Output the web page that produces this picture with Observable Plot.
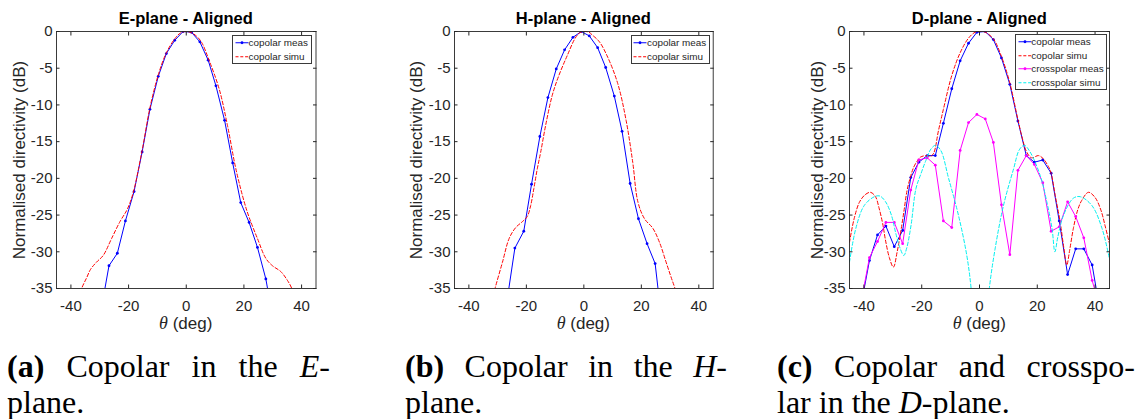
<!DOCTYPE html>
<html>
<head>
<meta charset="utf-8">
<script src="https://cdn.jsdelivr.net/npm/d3@7"></script>
<script src="https://cdn.jsdelivr.net/npm/@observablehq/plot@0.6"></script>
<style>
  html, body { margin: 0; padding: 0; background: #fff; }
  #root { position: relative; width: 1142px; height: 419px; overflow: hidden; background: #fff;
          font-family: "Liberation Sans", Arial, Helvetica, sans-serif; color: #262626; }
  .panel { position: absolute; top: 0; }
  .title { position: absolute; top: 8px; font-weight: bold; font-size: 16.5px; color: #000;
           white-space: nowrap; transform: translateX(-50%); line-height: 20px; }
  .ylabel { position: absolute; font-size: 17px; white-space: nowrap; line-height: 20px;
            transform: translate(-50%, -50%) rotate(-90deg); }
  .xlabel { position: absolute; top: 313px; font-size: 17px; white-space: nowrap; line-height: 20px;
            transform: translateX(-50%); }
  .xlabel i { font-family: "Liberation Serif", "Times New Roman", serif; font-size: 18px; }
  .legend { position: absolute; background: #fff; border: 1px solid #3a3a3a; box-sizing: border-box;
            font-size: 9.9px; color: #262626; }
  .legend .row { position: relative; height: 13.5px; line-height: 13.5px; white-space: nowrap; }
  .legend svg { position: absolute; left: 1.5px; top: 0; }
  .legend span { position: absolute; left: 15.3px; top: 0; }
  .caption { position: absolute; top: 349px; font-family: "Liberation Serif", "Times New Roman", serif;
             font-size: 32px; line-height: 35.6px; color: #000; }
  .caption .l1 { display: block; text-align: justify; text-align-last: justify; white-space: nowrap; }
  .caption .l2 { display: block; white-space: nowrap; }
</style>
</head>
<body>
<div id="root"></div>
<script>
// ---------- text ----------
const titles = ["E-plane - Aligned", "H-plane - Aligned", "D-plane - Aligned"];
const yLabel = "Normalised directivity (dB)";
const xLabelSymbol = "θ";
const xLabelUnit = " (deg)";
const legendLabels = ["copolar meas", "copolar simu", "crosspolar meas", "crosspolar simu"];
const captionTags = ["(a)", "(b)", "(c)"];
const captionLine1 = [[" Copolar in the ", "E", "-"], [" Copolar in the ", "H", "-"], [" Copolar and crosspo-", "", ""]];
const captionLine2 = [["plane.", "", ""], ["plane.", "", ""], ["lar in the ", "D", "-plane."]];

// ---------- axes ----------
const xDomain = [-45, 45];
const yDomain = [-35, 0];
const xTicks = [-40, -20, 0, 20, 40];
const yTicks = [0, -5, -10, -15, -20, -25, -30, -35];

// ---------- E-plane ----------
const eMeasTheta = [-29.7, -26.8, -23.9, -21.1, -18.1, -15.3, -12.6, -9.7, -6.9, -4.0, -1.1, 1.8, 4.7, 7.6, 10.3, 13.3, 16.1, 18.9, 21.8, 24.7, 27.6, 30.5];
const eMeasDB    = [-38.3, -31.9, -30.2, -25.8, -21.8, -16.4, -10.6, -6.1, -3.0, -1.2, 0, -0.1, -1.4, -3.9, -7.4, -12.1, -17.9, -23.3, -26.0, -29.4, -33.7, -40.0];
const eSimuTheta = [-38.0, -36.3, -34.5, -33.2, -31.1, -28.8, -25.9, -23.0, -20.7, -19.5, -18.1, -15.3, -12.6, -9.7, -6.9, -4.0, -2.0, 0, 2.0, 4.0, 5.5, 7.9, 11.4, 14.3, 17.2, 20.1, 21.8, 24.7, 27.6, 29.9, 32.8, 35.1, 36.6, 38.0];
const eSimuDB    = [-37.0, -35.0, -33.5, -32.4, -31.4, -30.5, -28.2, -25.9, -24.4, -23.3, -21.5, -16.2, -10.4, -5.9, -2.9, -1.0, -0.2, 0, -0.2, -0.8, -1.6, -3.9, -7.8, -12.8, -18.7, -23.2, -25.3, -28.2, -30.9, -31.9, -32.7, -33.9, -35.0, -37.0];

// ---------- H-plane ----------
const hMeasTheta = [-26.9, -24.0, -20.9, -18.2, -15.3, -12.5, -9.6, -6.7, -3.8, -0.9, 1.9, 4.8, 7.6, 10.6, 13.3, 16.1, 19.0, 22.0, 24.8, 27.7];
const hMeasDB    = [-37.1, -29.5, -27.2, -20.8, -14.3, -9.0, -5.1, -2.5, -0.8, 0, -0.6, -2.2, -4.9, -8.8, -13.6, -20.7, -25.5, -28.9, -31.6, -41.5];
const hSimuTheta = [-32.5, -30.9, -28.3, -26.0, -23.7, -21.4, -19.7, -18.5, -17.4, -16.2, -15.0, -13.3, -11.0, -8.7, -5.8, -3.0, -1.5, 0.3, 1.8, 3.0, 5.4, 8.3, 11.8, 14.7, 17.0, 18.8, 21.1, 24.0, 26.3, 28.6, 30.3, 31.7, 33.0];
const hSimuDB    = [-37.5, -35.0, -31.4, -28.2, -26.7, -25.9, -25.2, -23.7, -21.4, -18.7, -16.4, -12.8, -8.7, -6.0, -3.3, -0.9, -0.2, 0, -0.1, -0.5, -1.4, -3.5, -7.1, -12.1, -17.8, -23.2, -25.5, -26.8, -28.7, -31.4, -33.4, -35.0, -37.0];

// ---------- D-plane ----------
const dMeasTheta = [-41.0, -38.1, -35.3, -32.4, -29.5, -26.6, -23.8, -21.0, -18.1, -15.3, -12.5, -9.6, -6.7, -3.8, -0.9, 2.0, 4.8, 7.6, 10.5, 13.3, 16.2, 19.0, 21.9, 24.8, 27.6, 30.5, 33.3, 36.1, 39.0, 41.9];
const dCoMeasDB  = [-37.3, -31.2, -27.7, -26.5, -29.3, -27.1, -19.9, -17.8, -16.9, -16.9, -12.5, -7.8, -4.0, -1.6, -0.1, 0, -1.1, -3.6, -7.2, -12.2, -16.9, -17.8, -17.5, -19.3, -25.8, -33.1, -29.6, -29.6, -31.8, -38.5];
const dXMeasDB   = [-36.9, -30.8, -28.6, -26.0, -26.0, -28.9, -21.6, -17.5, -17.2, -18.2, -25.8, -26.7, -16.2, -12.4, -11.3, -11.9, -15.1, -23.6, -30.4, -18.9, -16.9, -18.1, -20.6, -27.2, -26.6, -23.2, -25.2, -28.1, -33.9, -38.0];
const dCoSimuTheta = [-45, -43.4, -41.5, -39.5, -37.7, -36.0, -34.8, -33.5, -32.6, -31.2, -29.8, -28.5, -27.4, -26.2, -25.1, -23.9, -22.8, -21.5, -20.4, -18.5, -17.0, -15.9, -14.2, -12.5, -9.6, -6.7, -3.8, -1.5, 0.5, 2.0, 4.8, 7.6, 10.5, 13.3, 15.0, 16.2, 18.0, 20.4, 22.0, 24.0, 24.8, 26.2, 27.9, 29.2, 30.2, 31.2, 32.5, 34.0, 35.4, 37.7, 40.0, 42.0, 43.5, 45];
const dCoSimuDB    = [-28.7, -25.5, -23.2, -22.2, -21.9, -22.5, -24.0, -26.2, -28.3, -30.8, -32.1, -30.0, -27.6, -24.6, -21.7, -19.8, -18.5, -17.6, -17.1, -16.9, -17.0, -16.6, -13.5, -10.6, -6.0, -2.9, -0.9, -0.1, 0, -0.1, -1.0, -3.4, -7.0, -12.0, -14.8, -16.3, -17.2, -16.9, -17.3, -18.5, -19.3, -22.3, -25.9, -29.5, -31.8, -29.8, -26.8, -24.3, -23.0, -21.9, -22.6, -24.3, -26.5, -28.9];
const dXSimuTheta = [-45, -42.8, -39.9, -36.4, -34.5, -32.5, -30.5, -28.9, -27.5, -26.2, -25.2, -23.7, -22.0, -20.3, -18.6, -16.8, -15.2, -13.4, -10.7, -7.3, -4.4, -2.9, -2.0, 2.4, 3.4, 5.4, 8.3, 11.8, 13.8, 15.5, 17.5, 21.0, 23.3, 25.1, 26.1, 27.1, 29.1, 32.5, 34.9, 38.9, 42.4, 45];
const dXSimuDB    = [-31.4, -26.8, -23.7, -22.5, -22.4, -23.2, -25.0, -27.6, -29.5, -30.5, -29.5, -26.4, -21.4, -19.4, -17.6, -16.0, -15.5, -16.2, -20.0, -25.0, -30.5, -35.0, -40.0, -40.0, -35.0, -29.6, -23.7, -18.7, -16.1, -15.5, -16.4, -19.6, -23.2, -26.8, -30.0, -28.0, -25.0, -22.7, -22.5, -23.7, -26.8, -31.0];

// ---------- styles ----------
const seriesStyle = {
  coMeas: {stroke: "#0000ff", dash: null, dots: true},
  coSimu: {stroke: "#ff0000", dash: "3.5,2.2", dots: false},
  xMeas:  {stroke: "#ff00ff", dash: null, dots: true},
  xSimu:  {stroke: "#00f0f0", dash: "3.5,2.2", dots: false}
};

const zip = (xs, ys) => xs.map((x, i) => ({theta: x, db: ys[i]}));

const panels = [
  {series: [["coMeas", zip(eMeasTheta, eMeasDB)], ["coSimu", zip(eSimuTheta, eSimuDB)]]},
  {series: [["coMeas", zip(hMeasTheta, hMeasDB)], ["coSimu", zip(hSimuTheta, hSimuDB)]]},
  {series: [["coMeas", zip(dMeasTheta, dCoMeasDB)], ["coSimu", zip(dCoSimuTheta, dCoSimuDB)],
            ["xMeas", zip(dMeasTheta, dXMeasDB)], ["xSimu", zip(dXSimuTheta, dXSimuDB)]]}
];

// ---------- layout (pixels) ----------
const layout = [
  {svgLeft: 0,     frameW: 259.5, ylabelX: 20,    legend: {left: 232.3, top: 35, width: 79.7}, cap: {left: 7,   width: 323}},
  {svgLeft: 398,   frameW: 258.7, ylabelX: 416.7, legend: {left: 630.7, top: 35, width: 79.3}, cap: {left: 405, width: 322}},
  {svgLeft: 793.3, frameW: 260,   ylabelX: 818.3, legend: {left: 1015,  top: 34, width: 91.7}, cap: {left: 777, width: 358}}
];
const SVG_W = 330, SVG_H = 340, M_LEFT = 56, M_TOP = 31, FRAME_H = 257;
const axisColor = "#262626";
const tickFmt = d => String(d);   // MATLAB uses a plain hyphen-minus

const root = document.getElementById("root");
const legendKeys = ["coMeas", "coSimu", "xMeas", "xSimu"];

panels.forEach((p, i) => {
  const L = layout[i];
  const marks = [];
  for (const [key, data] of p.series) {
    const s = seriesStyle[key];
    marks.push(Plot.line(data, {x: "theta", y: "db", stroke: s.stroke, strokeWidth: 1,
      strokeDasharray: s.dash ?? undefined, curve: s.dots ? "linear" : "catmull-rom", clip: true}));
    if (s.dots) marks.push(Plot.dot(data, {x: "theta", y: "db", fill: s.stroke, r: 1.4, clip: true}));
  }
  marks.push(Plot.frame({stroke: axisColor, strokeWidth: 0.9}));
  marks.push(Plot.axisX(xTicks, {anchor: "bottom", tickSize: -3.5, tickPadding: 15.2, tickFormat: tickFmt, stroke: axisColor, label: null}));
  marks.push(Plot.axisX(xTicks, {anchor: "top", tickSize: -3.5, tickFormat: () => "", stroke: axisColor, label: null}));
  marks.push(Plot.axisY(yTicks, {anchor: "left", tickSize: -3.5, tickPadding: 7.5, tickFormat: tickFmt, stroke: axisColor, label: null}));
  marks.push(Plot.axisY(yTicks, {anchor: "right", tickSize: -3.5, tickFormat: () => "", stroke: axisColor, label: null}));

  const svg = Plot.plot({
    width: SVG_W, height: SVG_H,
    marginLeft: M_LEFT, marginTop: M_TOP,
    marginRight: SVG_W - M_LEFT - L.frameW,
    marginBottom: SVG_H - M_TOP - FRAME_H,
    x: {domain: xDomain},
    y: {domain: yDomain},
    style: {fontFamily: "Liberation Sans, Arial, sans-serif", fontSize: "15px", color: axisColor, background: "transparent", overflow: "visible"},
    marks
  });
  const wrap = document.createElement("div");
  wrap.className = "panel";
  wrap.style.left = L.svgLeft + "px";
  wrap.appendChild(svg);
  root.appendChild(wrap);

  const frameLeft = L.svgLeft + M_LEFT;
  const cx = frameLeft + L.frameW / 2;

  const t = document.createElement("div");
  t.className = "title"; t.style.left = cx + "px"; t.textContent = titles[i];
  root.appendChild(t);

  const yl = document.createElement("div");
  yl.className = "ylabel"; yl.style.left = L.ylabelX + "px"; yl.style.top = (M_TOP + FRAME_H / 2) + "px";
  yl.textContent = yLabel;
  root.appendChild(yl);

  const xl = document.createElement("div");
  xl.className = "xlabel"; xl.style.left = cx + "px";
  const it = document.createElement("i"); it.textContent = xLabelSymbol;
  xl.appendChild(it); xl.appendChild(document.createTextNode(xLabelUnit));
  root.appendChild(xl);

  // legend
  const lg = document.createElement("div");
  lg.className = "legend";
  lg.style.left = L.legend.left + "px"; lg.style.top = L.legend.top + "px"; lg.style.width = L.legend.width + "px";
  p.series.forEach(([key]) => {
    const s = seriesStyle[key];
    const row = document.createElement("div"); row.className = "row";
    const ns = "http://www.w3.org/2000/svg";
    const sw = document.createElementNS(ns, "svg");
    sw.setAttribute("width", 14); sw.setAttribute("height", 13.5);
    const ln = document.createElementNS(ns, "line");
    ln.setAttribute("x1", 0.5); ln.setAttribute("x2", 13.5); ln.setAttribute("y1", 6.75); ln.setAttribute("y2", 6.75);
    ln.setAttribute("stroke", s.stroke); ln.setAttribute("stroke-width", 1);
    if (s.dash) ln.setAttribute("stroke-dasharray", "3,1.8");
    sw.appendChild(ln);
    if (s.dots) {
      const c = document.createElementNS(ns, "circle");
      c.setAttribute("cx", 7); c.setAttribute("cy", 6.75); c.setAttribute("r", 1.4); c.setAttribute("fill", s.stroke);
      sw.appendChild(c);
    }
    row.appendChild(sw);
    const sp = document.createElement("span"); sp.textContent = legendLabels[legendKeys.indexOf(key)];
    row.appendChild(sp);
    lg.appendChild(row);
  });
  root.appendChild(lg);

  // caption
  const cap = document.createElement("div");
  cap.className = "caption";
  cap.style.left = L.cap.left + "px"; cap.style.width = L.cap.width + "px";
  const mk = (parts, cls, tag) => {
    const d = document.createElement("span"); d.className = cls;
    if (tag) { const b = document.createElement("b"); b.textContent = tag; d.appendChild(b); }
    d.appendChild(document.createTextNode(parts[0]));
    if (parts[1]) { const e = document.createElement("i"); e.textContent = parts[1]; d.appendChild(e); }
    if (parts[2]) d.appendChild(document.createTextNode(parts[2]));
    return d;
  };
  cap.appendChild(mk(captionLine1[i], "l1", captionTags[i]));
  cap.appendChild(mk(captionLine2[i], "l2", null));
  root.appendChild(cap);
});
</script>
</body>
</html>
